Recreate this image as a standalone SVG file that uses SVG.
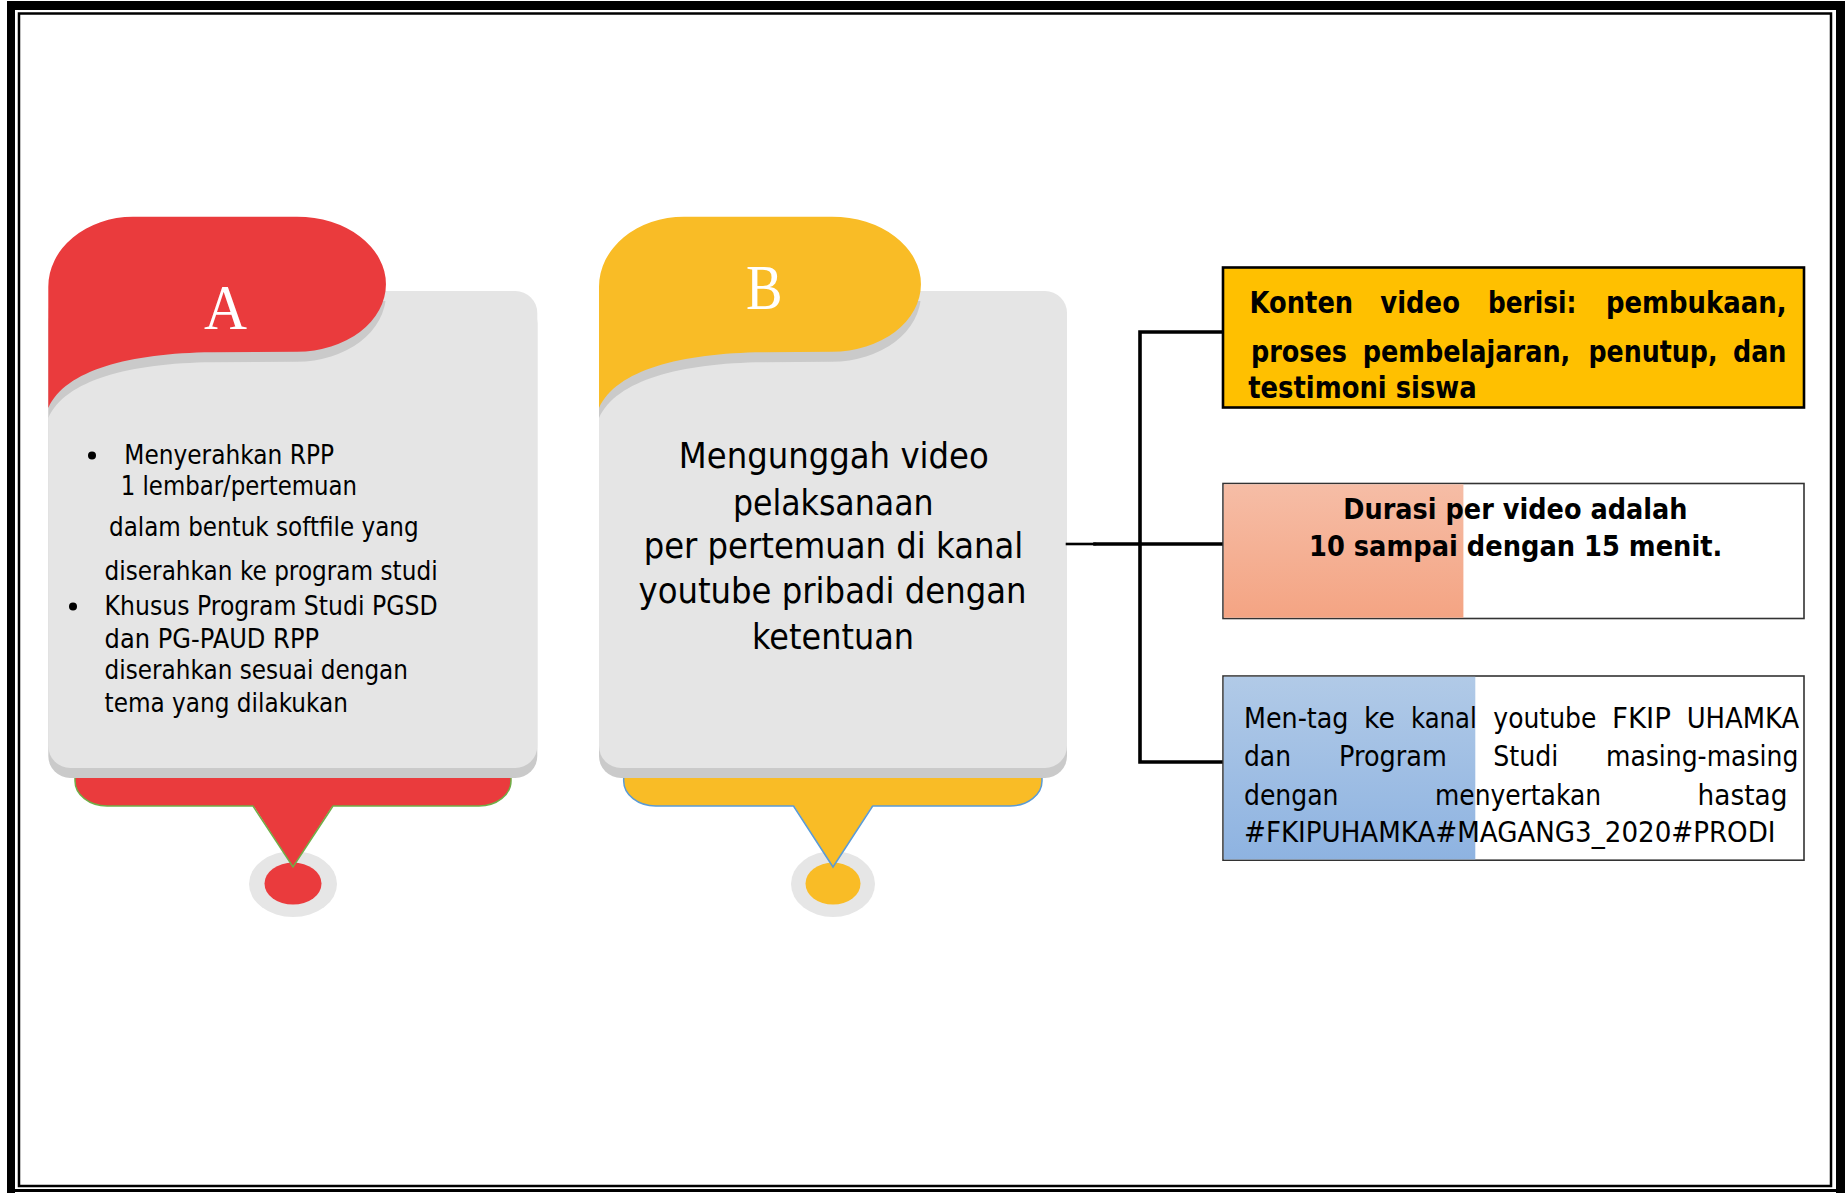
<svg xmlns="http://www.w3.org/2000/svg" width="1845" height="1193" viewBox="0 0 1845 1193">
<defs>
<style>
.sans{font-family:"DejaVu Sans","Verdana",sans-serif;fill:#000}
.bold{font-family:"DejaVu Sans","Verdana",sans-serif;font-weight:bold;fill:#000}
.serif{font-family:"Liberation Serif","Times New Roman",serif;fill:#fff}
.body{fill:#E5E5E5}
.shadow{fill:#CACACA}
.ring{fill:#E6E6E6}
.red{fill:#EA3B3D}
.yel{fill:#F9BC26}
.conn{stroke:#000;fill:none;stroke-linecap:square}
</style>
<clipPath id="clipA"><rect x="48.3" y="291" width="489" height="477" rx="22"/></clipPath>
<clipPath id="clipB"><rect x="599" y="291" width="468" height="477" rx="22"/></clipPath>
<linearGradient id="gPeach" x1="0" y1="0" x2="0" y2="1">
<stop offset="0" stop-color="#F6BDA6"/><stop offset="1" stop-color="#F4A483"/>
</linearGradient>
<linearGradient id="gBlue" x1="0" y1="0" x2="0" y2="1">
<stop offset="0" stop-color="#B1CAE7"/><stop offset="1" stop-color="#8EB3E1"/>
</linearGradient>
</defs>
<rect x="0" y="0" width="1845" height="1193" fill="#fff"/>
<g id="frame">
<rect x="7" y="1" width="1838" height="9" fill="#000"/>
<rect x="7" y="1" width="8" height="1192" fill="#000"/>
<rect x="1836" y="1" width="9" height="1192" fill="#000"/>
<rect x="7" y="1189" width="1838" height="3" fill="#000"/>
<rect x="19" y="13.5" width="1812" height="1172.5" fill="none" stroke="#000" stroke-width="2.5"/>
</g>

<g id="nodeA">
<path d="M75 770 L75 781 A32 25 0 0 0 107 806 L479 806 A32 25 0 0 0 511 781 L511 770 Z" class="red" stroke="#70AD47" stroke-width="1.5"/>
<ellipse cx="293" cy="884" rx="44" ry="33" class="ring"/>
<ellipse cx="293" cy="883.6" rx="28.5" ry="21" class="red"/>
<polygon points="253,805 333,805 293,867" class="red"/>
<polyline points="253,806 293,867 333,806" fill="none" stroke="#70AD47" stroke-width="1.5"/>
<rect x="48.3" y="301" width="489" height="477" rx="22" class="shadow"/>
<rect x="48.3" y="291" width="489" height="477" rx="22" class="body"/>
<path clip-path="url(#clipA)" transform="translate(0,10)" class="shadow" d="M48.3 408 L48.3 287 A85 70 0 0 1 133 216.7 L297 216.7 A89 67.5 0 0 1 297 351.7 L212 352.2 C130 353 65 370 48.3 408 Z"/>
<path class="red" d="M48.3 408 L48.3 287 A85 70 0 0 1 133 216.7 L297 216.7 A89 67.5 0 0 1 297 351.7 L212 352.2 C130 353 65 370 48.3 408 Z"/>
<text class="serif" x="204" y="328.5" font-size="64" textLength="43" lengthAdjust="spacingAndGlyphs">A</text>
<circle cx="92" cy="455.5" r="4"/>
<circle cx="73" cy="606.5" r="4"/>
<g class="sans" font-size="26.5">
<text x="124.3" y="463.6" textLength="209.7" lengthAdjust="spacingAndGlyphs">Menyerahkan RPP</text>
<text x="120.7" y="495" textLength="236.3" lengthAdjust="spacingAndGlyphs">1 lembar/pertemuan</text>
<text x="109" y="536" textLength="309.6" lengthAdjust="spacingAndGlyphs">dalam bentuk softfile yang</text>
<text x="104.6" y="580" textLength="333" lengthAdjust="spacingAndGlyphs">diserahkan ke program studi</text>
<text x="104.6" y="614.8" textLength="333" lengthAdjust="spacingAndGlyphs">Khusus Program Studi PGSD</text>
<text x="104.6" y="647.8" textLength="214.4" lengthAdjust="spacingAndGlyphs">dan PG-PAUD RPP</text>
<text x="104.6" y="679.3" textLength="303.4" lengthAdjust="spacingAndGlyphs">diserahkan sesuai dengan</text>
<text x="104.6" y="711.7" textLength="243.4" lengthAdjust="spacingAndGlyphs">tema yang dilakukan</text>
</g>
</g>

<g id="nodeB">
<path d="M623.7 770 L623.7 781 A32 25 0 0 0 655.7 806 L1010 806 A32 25 0 0 0 1042 781 L1042 770 Z" class="yel" stroke="#5B9BD5" stroke-width="1.5"/>
<ellipse cx="833" cy="884" rx="42" ry="33" class="ring"/>
<ellipse cx="833" cy="883.6" rx="27.5" ry="21" class="yel"/>
<polygon points="793.5,805 872.7,805 833,867" class="yel"/>
<polyline points="793.5,806 833,867 872.7,806" fill="none" stroke="#5B9BD5" stroke-width="1.5"/>
<rect x="599" y="301" width="468" height="477" rx="22" class="shadow"/>
<rect x="599" y="291" width="468" height="477" rx="22" class="body"/>
<path clip-path="url(#clipB)" transform="translate(0,10)" class="shadow" d="M599 408 L599 287 A85 70 0 0 1 684 216.7 L832 216.7 A89 67.5 0 0 1 832 351.7 L763 352.2 C681 353 616 370 599 408 Z"/>
<path class="yel" d="M599 408 L599 287 A85 70 0 0 1 684 216.7 L832 216.7 A89 67.5 0 0 1 832 351.7 L763 352.2 C681 353 616 370 599 408 Z"/>
<text class="serif" x="746" y="308.5" font-size="64" textLength="36.5" lengthAdjust="spacingAndGlyphs">B</text>
<g class="sans" font-size="36">
<text x="678.8" y="468.4" textLength="310" lengthAdjust="spacingAndGlyphs">Mengunggah video</text>
<text x="732.9" y="514.5" textLength="200.7" lengthAdjust="spacingAndGlyphs">pelaksanaan</text>
<text x="643.7" y="558" textLength="379.5" lengthAdjust="spacingAndGlyphs">per pertemuan di kanal</text>
<text x="638.5" y="602.7" textLength="388" lengthAdjust="spacingAndGlyphs">youtube pribadi dengan</text>
<text x="752" y="649.2" textLength="162" lengthAdjust="spacingAndGlyphs">ketentuan</text>
</g>
</g>

<g id="connectors">
<line class="conn" x1="1067" y1="544" x2="1095" y2="544" stroke-width="2.6" stroke-linecap="butt"/>
<line class="conn" x1="1095" y1="544" x2="1222" y2="544" stroke-width="3.6" stroke-linecap="butt"/>
<polyline class="conn" points="1222,332 1140,332 1140,762 1222,762" stroke-width="3.6"/>
</g>

<g id="box1">
<rect x="1223" y="267.5" width="581" height="140" fill="#FFC000" stroke="#000" stroke-width="2.6"/>
<g class="bold" font-size="27.5" transform="scale(1 1.1)">
<text y="284.8"><tspan x="1249.6" textLength="103.6" lengthAdjust="spacingAndGlyphs">Konten</tspan> <tspan x="1380.3" textLength="79.7" lengthAdjust="spacingAndGlyphs">video</tspan> <tspan x="1488" textLength="88.5" lengthAdjust="spacingAndGlyphs">berisi:</tspan> <tspan x="1606" textLength="180.5" lengthAdjust="spacingAndGlyphs">pembukaan,</tspan></text>
<text y="329.3"><tspan x="1251" textLength="96" lengthAdjust="spacingAndGlyphs">proses</tspan> <tspan x="1362.7" textLength="207.6" lengthAdjust="spacingAndGlyphs">pembelajaran,</tspan> <tspan x="1588.4" textLength="129.2" lengthAdjust="spacingAndGlyphs">penutup,</tspan> <tspan x="1733" textLength="53.5" lengthAdjust="spacingAndGlyphs">dan</tspan></text>
<text x="1248.2" y="362" textLength="228.5" lengthAdjust="spacingAndGlyphs">testimoni siswa</text>
</g>
</g>

<g id="box2">
<rect x="1223" y="483.5" width="581" height="135" fill="#fff" stroke="#333" stroke-width="1.6"/>
<rect x="1223.8" y="484.3" width="239.6" height="133.4" fill="url(#gPeach)"/>
<g class="bold" font-size="28">
<text x="1343.2" y="519.4" textLength="344.4" lengthAdjust="spacingAndGlyphs">Durasi per video adalah</text>
<text x="1309" y="556.1" textLength="413.3" lengthAdjust="spacingAndGlyphs">10 sampai dengan 15 menit.</text>
</g>
</g>

<g id="box3">
<rect x="1223" y="676" width="581" height="184.2" fill="#fff" stroke="#333" stroke-width="1.6"/>
<rect x="1223.8" y="676.8" width="251.5" height="182.6" fill="url(#gBlue)"/>
<g class="sans" font-size="29">
<text y="728.4"><tspan x="1244" textLength="104.5" lengthAdjust="spacingAndGlyphs">Men-tag</tspan> <tspan x="1364" textLength="31" lengthAdjust="spacingAndGlyphs">ke</tspan> <tspan x="1411" textLength="65.7" lengthAdjust="spacingAndGlyphs">kanal</tspan> <tspan x="1493.3" textLength="103.1" lengthAdjust="spacingAndGlyphs">youtube</tspan> <tspan x="1612" textLength="59" lengthAdjust="spacingAndGlyphs">FKIP</tspan> <tspan x="1686.7" textLength="112.6" lengthAdjust="spacingAndGlyphs">UHAMKA</tspan></text>
<text y="766.3"><tspan x="1244" textLength="47" lengthAdjust="spacingAndGlyphs">dan</tspan> <tspan x="1339" textLength="107.8" lengthAdjust="spacingAndGlyphs">Program</tspan> <tspan x="1493.3" textLength="65.1" lengthAdjust="spacingAndGlyphs">Studi</tspan> <tspan x="1606" textLength="192.3" lengthAdjust="spacingAndGlyphs">masing-masing</tspan></text>
<text y="805"><tspan x="1244" textLength="94.5" lengthAdjust="spacingAndGlyphs">dengan</tspan> <tspan x="1435" textLength="166" lengthAdjust="spacingAndGlyphs">menyertakan</tspan> <tspan x="1697.6" textLength="89.8" lengthAdjust="spacingAndGlyphs">hastag</tspan></text>
<text x="1244" y="841.8" textLength="531.5" lengthAdjust="spacingAndGlyphs">#FKIPUHAMKA#MAGANG3_2020#PRODI</text>
</g>
</g>
</svg>
